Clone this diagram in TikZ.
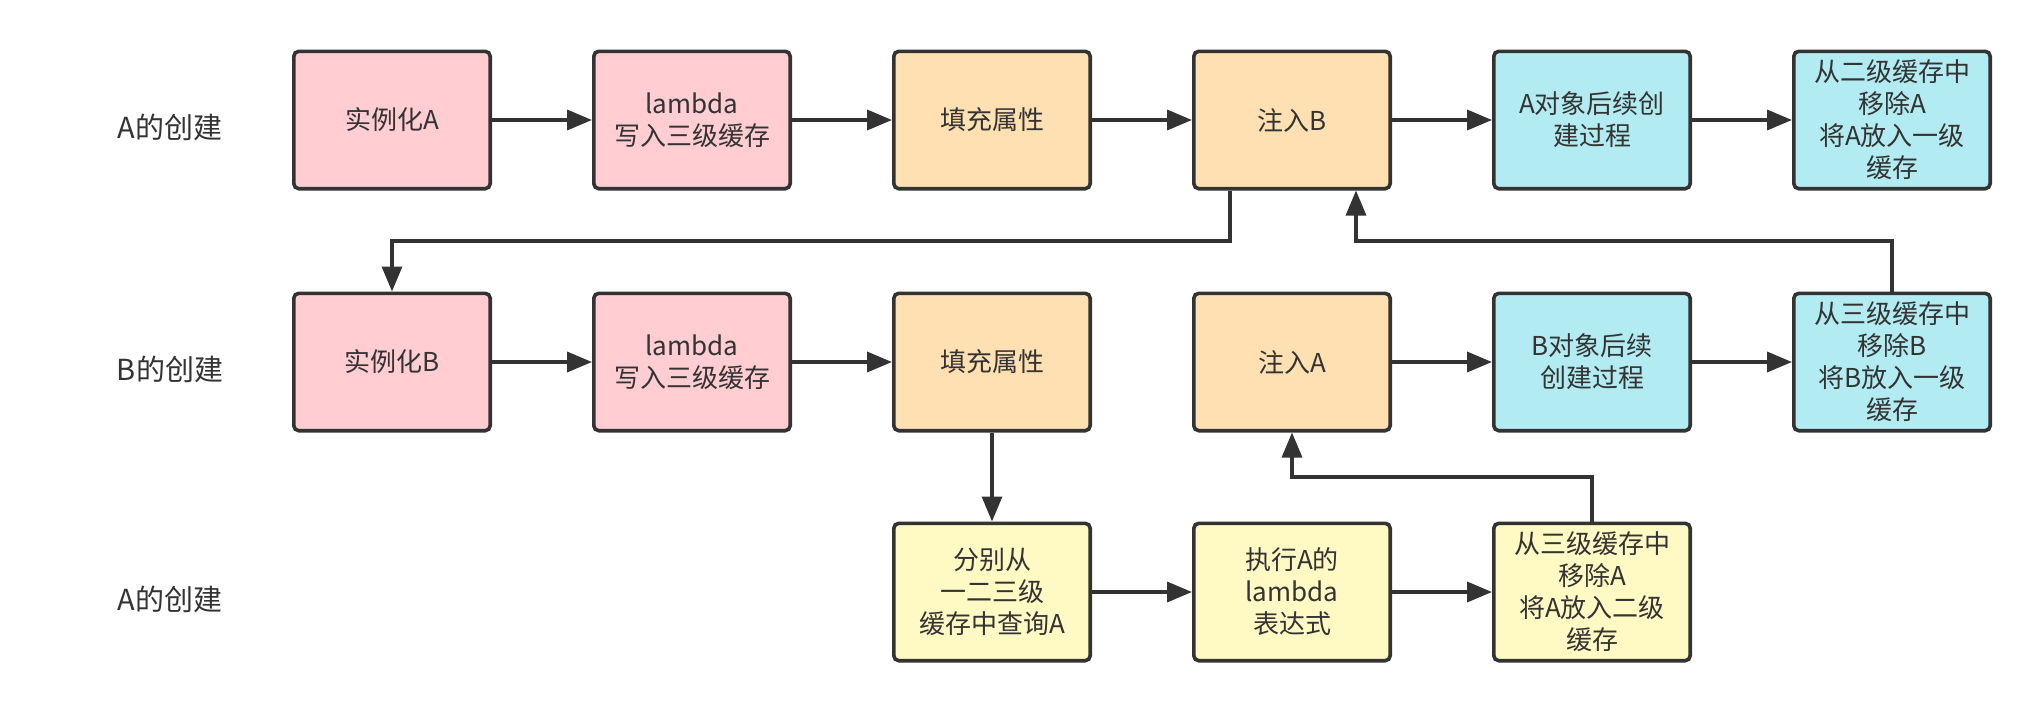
\documentclass[tikz,border=0pt]{standalone}
\usepackage{fontspec}
\setmainfont{Noto Sans CJK SC}
\usetikzlibrary{arrows.meta,calc}

\definecolor{strokec}{HTML}{333333}
\definecolor{pinkc}{HTML}{FFCDD2}
\definecolor{peachc}{HTML}{FFE0B2}
\definecolor{cyanc}{HTML}{B2EBF2}
\definecolor{yellowc}{HTML}{FFF9C4}

\tikzset{
  box/.style={draw=strokec, line width=1.8pt, rounded corners=2.5pt, minimum width=98.2pt, minimum height=68.7pt, inner sep=0pt, align=center, text=strokec, font=\fontsize{13}{16}\selectfont},
  rowlabel/.style={text=strokec, inner sep=0pt, font=\fontsize{14.5}{18}\selectfont},
  arr/.style={draw=strokec, line width=1.8pt, -{Triangle[length=12.5pt,width=10pt]}},
  link/.style={draw=strokec, line width=1.6pt, -{Triangle[length=12.5pt,width=10pt]}},
}

\begin{document}
\begin{tikzpicture}[x=0.5pt,y=0.5pt,yscale=-1]
\useasboundingbox (0,0) rectangle (2042,712);

% Text Node
\node[rowlabel] (la) at (170,127) {A的创建};
% Text Node
\node[rowlabel] (lb) at (170,369) {B的创建};
% Text Node
\node[rowlabel] (lc) at (170,599) {A的创建};

%Shape: first row
\node[box, fill=pinkc] (a1) at (392,120) {实例化A};
\node[box, fill=pinkc] (a2) at (692,120) {lambda\\写入三级缓存};
\node[box, fill=peachc] (a3) at (992,120) {填充属性};
\node[box, fill=peachc] (a4) at (1292,120) {注入B};
\node[box, fill=cyanc] (a5) at (1592,120) {A对象后续创\\建过程};
\node[box, fill=cyanc] (a6) at (1892,120) {从二级缓存中\\移除A\\将A放入一级\\缓存};

%Shape: second row
\node[box, fill=pinkc] (b1) at (392,362) {实例化B};
\node[box, fill=pinkc] (b2) at (692,362) {lambda\\写入三级缓存};
\node[box, fill=peachc] (b3) at (992,362) {填充属性};
\node[box, fill=peachc] (b4) at (1292,362) {注入A};
\node[box, fill=cyanc] (b5) at (1592,362) {B对象后续\\创建过程};
\node[box, fill=cyanc] (b6) at (1892,362) {从三级缓存中\\移除B\\将B放入一级\\缓存};

%Shape: third row
\node[box, fill=yellowc] (c1) at (992,592) {分别从\\一二三级\\缓存中查询A};
\node[box, fill=yellowc] (c2) at (1292,592) {执行A的\\lambda\\表达式};
\node[box, fill=yellowc] (c3) at (1592,592) {从三级缓存中\\移除A\\将A放入二级\\缓存};

%Straight Lines
\draw[arr] (a1) -- (a2);
\draw[arr] (a2) -- (a3);
\draw[arr] (a3) -- (a4);
\draw[arr] (a4) -- (a5);
\draw[arr] (a5) -- (a6);
\draw[arr] (b1) -- (b2);
\draw[arr] (b2) -- (b3);
\draw[arr] (b4) -- (b5);
\draw[arr] (b5) -- (b6);
\draw[arr] (c1) -- (c2);
\draw[arr] (c2) -- (c3);
\draw[link] (b3) -- (c1);

%Elbow Lines
\coordinate (m1) at ($(a4.south)!.5!(b4.north)$);
\coordinate (m2) at ($(b4.south)!.5!(c2.north)$);
\coordinate (a4out) at ([xshift=19pt]a4.south west);
\coordinate (a4in) at ([xshift=-18pt]a4.south east);
\draw[link] (a4out) -- (a4out |- m1) -| (b1.north);
\draw[link] (b6.north) |- (a4in |- m1) -- (a4in);
\draw[link] (c3.north) |- (m2) -- (b4.south);

\end{tikzpicture}
\end{document}
